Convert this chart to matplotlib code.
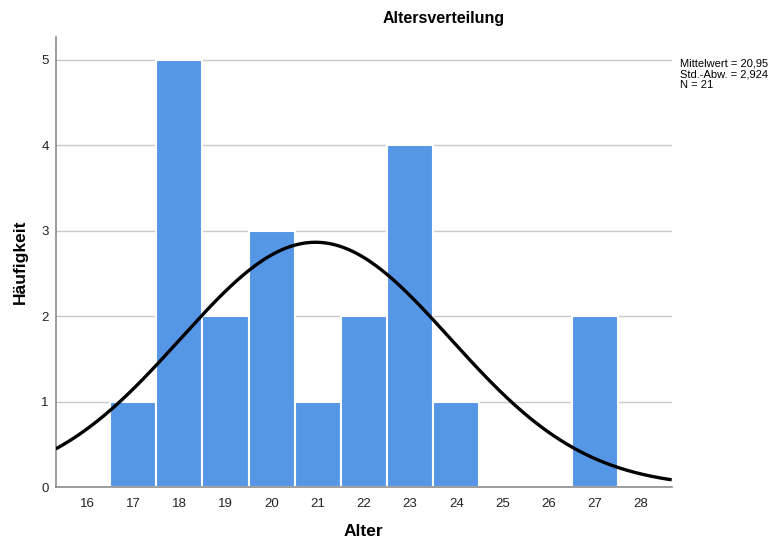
import numpy as np
import matplotlib
matplotlib.use('Agg')
import matplotlib.pyplot as plt

plt.rcParams['font.family'] = ['Liberation Sans', 'DejaVu Sans']

# ages and frequencies
alter = [16, 17, 18, 19, 20, 21, 22, 23, 24, 25, 26, 27, 28]
haeufigkeit = [0, 1, 5, 2, 3, 1, 2, 4, 1, 0, 0, 2, 0]
mittelwert = 20.95
std_abw = 2.924
n = 21

fig = plt.figure(figsize=(7.75, 5.42), dpi=100)
ax = fig.add_axes([0.0719, 0.1009, 0.7948, 0.8308])

ax.bar(alter, haeufigkeit, width=1.0, color='#5596E6', edgecolor='white',
       linewidth=1.5, zorder=2)

# normal curve from the reported stats (bin width 1)
xs = np.linspace(15.32, 28.67, 300)
ys = n / (std_abw * np.sqrt(2 * np.pi)) * np.exp(-0.5 * ((xs - mittelwert) / std_abw) ** 2)
ax.plot(xs, ys, color='black', lw=2.4, zorder=3, solid_capstyle='butt')

ax.set_xlim(15.32, 28.67)
ax.set_ylim(0, 5.265)
ax.set_xticks(alter)
ax.set_yticks(range(0, 6))
ax.tick_params(axis='x', length=0, pad=8, labelsize=9.5, colors='#222222')
ax.tick_params(axis='y', length=0, pad=5, labelsize=9.5, colors='#222222')
ax.yaxis.grid(True, color='#c8c8c8', lw=1.0, zorder=0)
ax.set_axisbelow(True)

for s in ['top', 'right']:
    ax.spines[s].set_visible(False)
for s in ['left', 'bottom']:
    ax.spines[s].set_color('#8c8c8c')
    ax.spines[s].set_linewidth(1.2)

ax.set_xlabel('Alter', fontsize=12.5, fontweight='bold', labelpad=10)
ax.set_ylabel('Häufigkeit', fontsize=12.5, fontweight='bold', labelpad=10)

fig.text(444 / 775, 1 - 18 / 542, 'Altersverteilung', ha='center', va='center',
         fontsize=11.5, fontweight='bold')
fig.text(680 / 775, 1 - 58 / 542,
         f'Mittelwert = 20,95\nStd.-Abw. = 2,924\nN = {n}',
         ha='left', va='top', fontsize=8, linespacing=1.15)

plt.savefig('out.png', dpi=100)
plt.close()
